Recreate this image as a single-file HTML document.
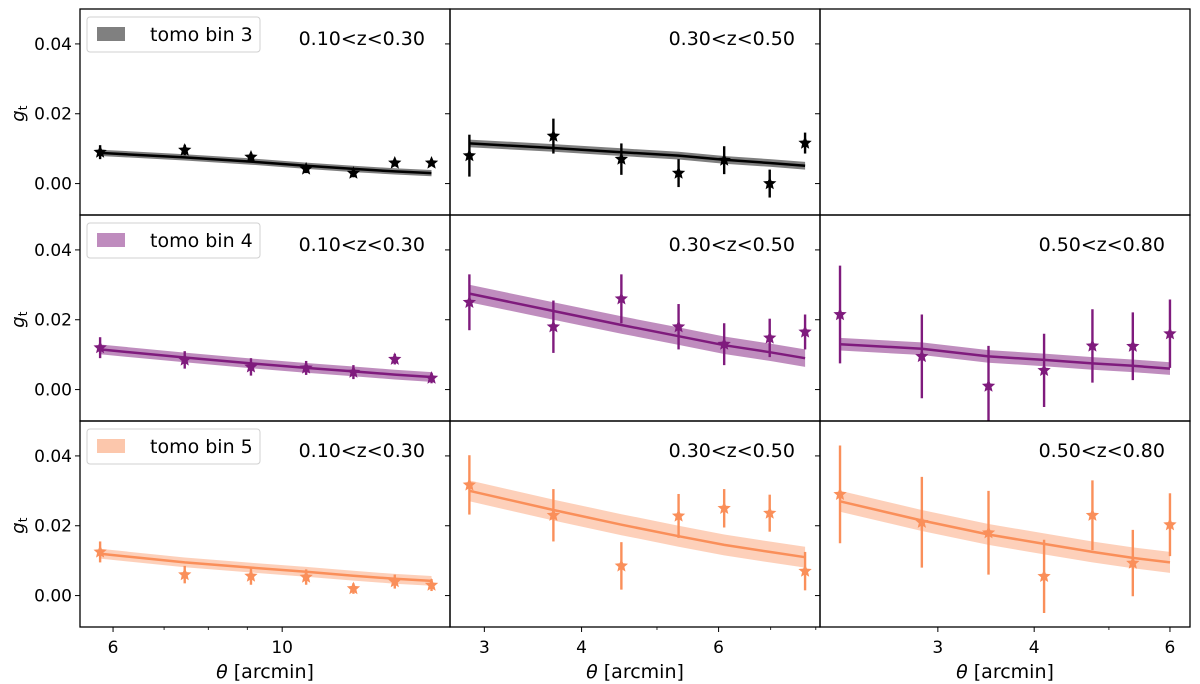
<!DOCTYPE html>
<html><head><meta charset="utf-8">
<style>
html,body{margin:0;padding:0;background:#fff;}
svg{display:block;font-family:"DejaVu Sans","Liberation Sans",sans-serif;}
</style></head>
<body>
<svg id="chart" width="1200" height="684" viewBox="0 0 1200 684"></svg>
<script>
// ---- data ----
const thetaCol1 = [5.77, 7.45, 9.1, 10.75, 12.4, 14.05, 15.7];
const thetaCol2 = [2.87, 3.68, 4.5, 5.33, 6.1, 6.98, 7.75];
const thetaCol3 = [2.24, 2.86, 3.49, 4.12, 4.76, 5.37, 6.0];
const binLabels = ["tomo bin 3", "tomo bin 4", "tomo bin 5"];
const zLabels = ["0.10<z<0.30", "0.30<z<0.50", "0.50<z<0.80"];
const yTicks = [0.00, 0.02, 0.04];
const xTicksCol1 = [6, 10];
const xTicksCol2 = [3, 4, 6];
const xTicksCol3 = [3, 4, 6];

// bin 3
const gt_b3_c1 = [0.009, 0.0096, 0.0076, 0.0042, 0.003, 0.0059, 0.0059];
const err_b3_c1 = [0.002, 0.0015, 0.0012, 0.0012, 0.0012, 0.001, 0.0008];
const mod_b3_c1 = [0.0088, 0.0075, 0.0063, 0.0051, 0.0042, 0.0035, 0.003];
const gt_b3_c2 = [0.008, 0.0136, 0.007, 0.003, 0.0067, 0.0, 0.0116];
const err_b3_c2 = [0.006, 0.005, 0.0045, 0.004, 0.004, 0.004, 0.003];
const mod_b3_c2 = [0.0115, 0.0102, 0.009, 0.008, 0.0068, 0.0059, 0.0051];
// bin 4
const gt_b4_c1 = [0.012, 0.0085, 0.0065, 0.0062, 0.005, 0.0087, 0.0033];
const err_b4_c1 = [0.003, 0.0025, 0.0025, 0.002, 0.002, 0.0015, 0.0015];
const mod_b4_c1 = [0.0115, 0.0092, 0.0075, 0.0062, 0.0052, 0.0043, 0.0036];
const gt_b4_c2 = [0.025, 0.018, 0.026, 0.018, 0.013, 0.0148, 0.0165];
const err_b4_c2 = [0.008, 0.0075, 0.007, 0.0065, 0.006, 0.0055, 0.005];
const mod_b4_c2 = [0.0275, 0.0225, 0.0185, 0.0153, 0.0127, 0.0107, 0.009];
const gt_b4_c3 = [0.0215, 0.0095, 0.001, 0.0055, 0.0125, 0.0124, 0.016];
const err_b4_c3 = [0.014, 0.012, 0.0115, 0.0105, 0.0105, 0.0097, 0.0098];
const mod_b4_c3 = [0.013, 0.0117, 0.0095, 0.0085, 0.0075, 0.0068, 0.006];
// bin 5
const gt_b5_c1 = [0.0125, 0.006, 0.0056, 0.0053, 0.002, 0.004, 0.003];
const err_b5_c1 = [0.003, 0.0025, 0.0025, 0.0022, 0.0015, 0.002, 0.0017];
const mod_b5_c1 = [0.012, 0.0095, 0.008, 0.0068, 0.0057, 0.0048, 0.0042];
const gt_b5_c2 = [0.0317, 0.023, 0.0085, 0.0228, 0.025, 0.0236, 0.007];
const err_b5_c2 = [0.0085, 0.0075, 0.0068, 0.0063, 0.0055, 0.0053, 0.0055];
const mod_b5_c2 = [0.03, 0.0245, 0.0203, 0.017, 0.0145, 0.0125, 0.011];
const gt_b5_c3 = [0.029, 0.021, 0.018, 0.0055, 0.023, 0.0093, 0.0203];
const err_b5_c3 = [0.014, 0.013, 0.012, 0.0105, 0.01, 0.0095, 0.009];
const mod_b5_c3 = [0.027, 0.0215, 0.0175, 0.0148, 0.0125, 0.0108, 0.0095];

const NS = "http://www.w3.org/2000/svg";
const svg = document.getElementById("chart");
function el(tag, attrs, parent) {
  const e = document.createElementNS(NS, tag);
  for (const k in attrs) e.setAttribute(k, attrs[k]);
  (parent || svg).appendChild(e);
  return e;
}
const colLeft = [80, 450, 820], colW = 370;
const rowTop = [9, 215, 421], rowH = 206;
const xLim = [[5.43, 16.6], [2.71, 8.1], [2.11, 6.37]];
const yLim = [-0.009, 0.05];
const thetas = [thetaCol1, thetaCol2, thetaCol3];
const colors = [
  {line: "#000000", band: "rgba(0,0,0,0.5)", patch: "#808080"},
  {line: "#7f1b7d", band: "rgba(127,27,125,0.5)", patch: "#bf8cbe"},
  {line: "#fa8f5a", band: "rgba(250,143,90,0.42)", patch: "#fcc7ac"}
];
const panels = [
  [[gt_b3_c1, err_b3_c1, mod_b3_c1], [gt_b3_c2, err_b3_c2, mod_b3_c2], null],
  [[gt_b4_c1, err_b4_c1, mod_b4_c1], [gt_b4_c2, err_b4_c2, mod_b4_c2], [gt_b4_c3, err_b4_c3, mod_b4_c3]],
  [[gt_b5_c1, err_b5_c1, mod_b5_c1], [gt_b5_c2, err_b5_c2, mod_b5_c2], [gt_b5_c3, err_b5_c3, mod_b5_c3]]
];
const bandHalf = [[0.0009, 0.0011, 0], [0.0014, 0.0025, 0.0018], [0.0014, 0.003, 0.003]];
function xs(c, t) { const [a, b] = xLim[c]; return colLeft[c] + colW * (Math.log(t) - Math.log(a)) / (Math.log(b) - Math.log(a)); }
function ys(r, v) { return rowTop[r] + rowH * (yLim[1] - v) / (yLim[1] - yLim[0]); }
function starPts(cx, cy, R) {
  const r = R * 0.45, p = [];
  for (let i = 0; i < 10; i++) {
    const a = -Math.PI / 2 + i * Math.PI / 5, rr = i % 2 ? r : R;
    p.push((cx + rr * Math.cos(a)).toFixed(1) + "," + (cy + rr * Math.sin(a)).toFixed(1));
  }
  return p.join(" ");
}

for (let r = 0; r < 3; r++) {
  for (let c = 0; c < 3; c++) {
    const g = el("g", {});
    
    
    const cp = el("clipPath", {id: "cp" + r + c}, g);
    el("rect", {x: colLeft[c], y: rowTop[r], width: colW, height: rowH}, cp);
    const d = panels[r][c];
    const col = colors[r];
    const inner = el("g", {"clip-path": "url(#cp" + r + c + ")"}, g);
    if (d) {
      const th = thetas[c], bh = bandHalf[r][c];
      let up = "", lo = [];
      th.forEach((t, i) => { up += (i ? "L" : "M") + xs(c, t).toFixed(1) + "," + ys(r, d[2][i] + bh).toFixed(1); lo.push(xs(c, t).toFixed(1) + "," + ys(r, d[2][i] - bh).toFixed(1)); });
      const band = el("path", {d: up + "L" + lo.reverse().join("L") + "Z", fill: col.band, stroke: "none"}, inner);
      
      
      const ln = el("polyline", {points: th.map((t, i) => xs(c, t).toFixed(1) + "," + ys(r, d[2][i]).toFixed(1)).join(" "), fill: "none", stroke: col.line, "stroke-width": 2.5}, inner);
      
      
      th.forEach((t, i) => {
        const x = xs(c, t);
        const eb = el("line", {x1: x, x2: x, y1: ys(r, d[0][i] - d[1][i]), y2: ys(r, d[0][i] + d[1][i]), stroke: col.line, "stroke-width": 2.4}, inner);
        
        
        const st = el("polygon", {points: starPts(x, ys(r, d[0][i]), 7), fill: col.line}, inner);
        
        
      });
    }
    const fr = el("rect", {x: colLeft[c], y: rowTop[r], width: colW, height: rowH, fill: "none", stroke: "#000", "stroke-width": 1.3}, g);
    
    
    yTicks.forEach(v => {
      el("line", {x1: colLeft[c] - 5, x2: colLeft[c], y1: ys(r, v), y2: ys(r, v), stroke: "#000", "stroke-width": 1}, g);
      if (c === 0) {
        const t = el("text", {x: colLeft[0] - 8, y: ys(r, v) + 6, "text-anchor": "end", "font-size": 17}, g);
        t.textContent = v.toFixed(2);
        
        
      }
    });
    if (d) {
      const zt = el("text", {x: colLeft[c] + colW - 25, y: rowTop[r] + 36, "text-anchor": "end", "font-size": 19}, g);
      zt.textContent = zLabels[c];
      
      
    }
  }
  const lg = el("g", {});
  
  
  const y0 = rowTop[r];
  el("rect", {x: 87, y: y0 + 8, width: 173, height: 35, rx: 3, fill: "#fff", stroke: "#d0d0d0", "stroke-width": 1}, lg);
  el("rect", {x: 97, y: y0 + 18, width: 28, height: 14, fill: colors[r].patch}, lg);
  const lt = el("text", {x: 150, y: y0 + 32, "font-size": 19}, lg);
  lt.textContent = binLabels[r];
  const yl = el("text", {x: 0, y: 0, "font-size": 18, "font-style": "italic", transform: "translate(24," + (ys(r, 0.02) + 8) + ") rotate(-90)"});
  yl.innerHTML = 'g<tspan font-size="12" font-style="normal" dy="3">t</tspan>';
  
  
}
const xTickSets = [xTicksCol1, xTicksCol2, xTicksCol3];
const minorSets = [[7, 8, 9, 20], [5, 7, 8], [5]];
const yb = rowTop[2] + rowH;
for (let c = 0; c < 3; c++) {
  xTickSets[c].forEach(t => {
    const x = xs(c, t);
    el("line", {x1: x, x2: x, y1: yb, y2: yb + 5, stroke: "#000", "stroke-width": 1});
    const tl = el("text", {x: x, y: yb + 26, "text-anchor": "middle", "font-size": 17});
    tl.textContent = t;
    
    
  });
  minorSets[c].forEach(t => {
    const x = xs(c, t);
    if (x > colLeft[c] && x < colLeft[c] + colW) el("line", {x1: x, x2: x, y1: yb, y2: yb + 3, stroke: "#000", "stroke-width": 0.8});
  });
  const xl = el("text", {x: colLeft[c] + colW / 2, y: yb + 51, "text-anchor": "middle", "font-size": 19});
  xl.innerHTML = '<tspan font-style="italic">θ</tspan> [arcmin]';
  
  
}
</script>
</body></html>
